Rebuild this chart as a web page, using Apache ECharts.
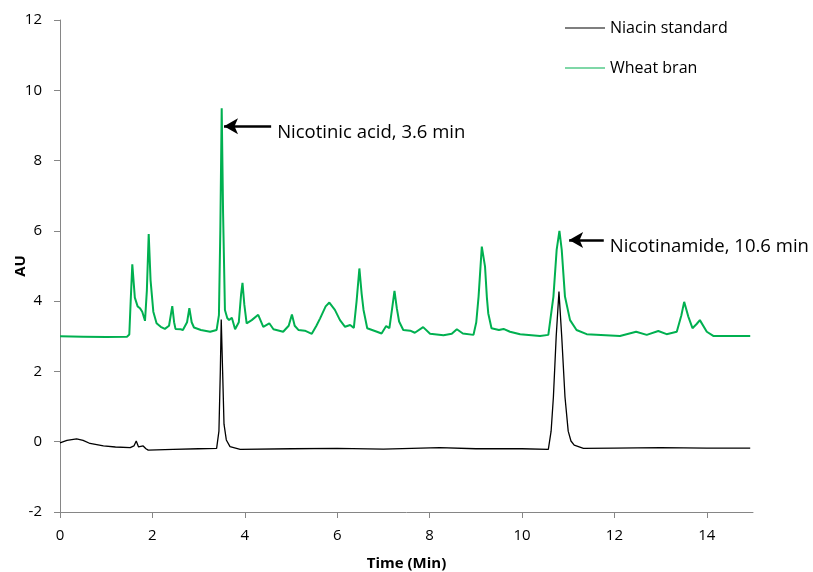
<!DOCTYPE html>
<html>
<head>
<meta charset="utf-8">
<script src="https://cdn.jsdelivr.net/npm/echarts@6/dist/echarts.min.js"></script>
<style>
  html, body { margin: 0; padding: 0; background: #fff; }
  #chart-container { width: 813px; height: 572px; }
</style>
</head>
<body>
<div id="chart-container"></div>
<script>
var dom = document.getElementById("chart-container");
var myChart = echarts.init(dom, null, { renderer: "canvas" });

var font = "'Open Sans', 'Noto Sans', sans-serif";
var xTicks = [0, 2, 4, 6, 8, 10, 12, 14];
var seriesNames = ["Niacin standard", "Wheat bran"];

// [time (min), AU]
var niacinStandard = [
  [0, -0.03], [0.15, 0.04], [0.36, 0.08], [0.5, 0.04], [0.65, -0.05],
  [0.94, -0.12], [1.2, -0.15], [1.52, -0.17], [1.6, -0.12], [1.65, 0.02],
  [1.7, -0.15], [1.73, -0.19], [1.8, -0.12], [1.86, -0.2], [1.91, -0.24],
  [2.45, -0.22], [3.0, -0.2], [3.39, -0.19], [3.44, 0.3], [3.47, 2.0],
  [3.49, 3.48], [3.52, 2.0], [3.55, 0.5], [3.6, 0.05], [3.68, -0.14],
  [3.9, -0.22], [5.0, -0.2], [6.0, -0.19], [7.0, -0.21], [8.22, -0.17],
  [9.0, -0.2], [10.0, -0.2], [10.57, -0.22], [10.63, 0.3], [10.68, 1.28],
  [10.74, 2.99], [10.8, 4.27], [10.86, 2.99], [10.93, 1.28], [11.0, 0.3],
  [11.06, 0.02], [11.13, -0.1], [11.33, -0.19], [12.0, -0.18], [13.0, -0.17],
  [14.0, -0.18], [14.94, -0.18]
];

var wheatBran = [
  [0, 3.0], [0.5, 2.99], [1.0, 2.98], [1.45, 2.99], [1.5, 3.05],
  [1.53, 4.0], [1.565, 5.05], [1.62, 4.1], [1.68, 3.85], [1.73, 3.8],
  [1.78, 3.7], [1.84, 3.44], [1.88, 4.3], [1.92, 5.91], [1.96, 4.6],
  [2.02, 3.7], [2.09, 3.37], [2.18, 3.27], [2.27, 3.21], [2.36, 3.3],
  [2.43, 3.86], [2.47, 3.4], [2.5, 3.21], [2.61, 3.2], [2.66, 3.18],
  [2.75, 3.4], [2.8, 3.8], [2.85, 3.4], [2.9, 3.25], [3.05, 3.18],
  [3.25, 3.13], [3.39, 3.18], [3.44, 3.6], [3.47, 6.0], [3.5, 9.49],
  [3.53, 6.5], [3.57, 3.75], [3.62, 3.52], [3.66, 3.46], [3.72, 3.53],
  [3.79, 3.2], [3.87, 3.4], [3.92, 4.2], [3.95, 4.52], [3.99, 3.9],
  [4.04, 3.37], [4.15, 3.46], [4.29, 3.61], [4.4, 3.27], [4.53, 3.37],
  [4.62, 3.2], [4.83, 3.13], [4.95, 3.3], [5.02, 3.62], [5.08, 3.3],
  [5.16, 3.18], [5.3, 3.16], [5.45, 3.07], [5.55, 3.3], [5.63, 3.51],
  [5.75, 3.85], [5.83, 3.96], [5.95, 3.75], [6.06, 3.46], [6.17, 3.27],
  [6.28, 3.32], [6.36, 3.24], [6.42, 4.0], [6.48, 4.93], [6.53, 4.2],
  [6.57, 3.75], [6.65, 3.23], [6.86, 3.13], [6.96, 3.08], [7.06, 3.29],
  [7.13, 3.23], [7.19, 3.8], [7.24, 4.29], [7.29, 3.8], [7.34, 3.42],
  [7.43, 3.18], [7.58, 3.16], [7.68, 3.1], [7.86, 3.26], [8.01, 3.07],
  [8.3, 3.03], [8.48, 3.07], [8.59, 3.2], [8.72, 3.08], [8.95, 3.04],
  [9.01, 3.4], [9.06, 4.13], [9.13, 5.55], [9.2, 4.98], [9.24, 4.1],
  [9.27, 3.65], [9.34, 3.23], [9.5, 3.18], [9.6, 3.21], [9.74, 3.13],
  [9.96, 3.06], [10.39, 3.01], [10.57, 3.04], [10.68, 4.13], [10.75, 5.46],
  [10.81, 6.0], [10.86, 5.46], [10.93, 4.13], [11.04, 3.46], [11.18, 3.18],
  [11.4, 3.06], [12.12, 3.01], [12.47, 3.13], [12.7, 3.04], [12.95, 3.15],
  [13.13, 3.06], [13.35, 3.13], [13.45, 3.6], [13.51, 3.98], [13.6, 3.56],
  [13.69, 3.23], [13.78, 3.35], [13.85, 3.46], [14.0, 3.13], [14.14, 3.01],
  [14.94, 3.01]
];

// arrow annotations: tail, tip, label text
var arrows = [
  { from: [4.57, 8.98], to: [3.55, 8.98], text: "Nicotinic acid, 3.6 min" },
  { from: [11.77, 5.74], to: [11.02, 5.74], text: "Nicotinamide, 10.6 min" }
];

var axisGrey = "#868686";

var option = {
  animation: false,
  textStyle: { fontFamily: font },
  grid: { left: 60, right: 60, top: 20, bottom: 60, outerBoundsMode: "none" },
  legend: {
    orient: "vertical",
    left: 560,
    top: 14,
    icon: "rect",
    itemWidth: 40,
    itemHeight: 1.2,
    itemGap: 22,
    data: seriesNames,
    textStyle: { fontSize: 16, lineHeight: 18, color: "#000", fontFamily: font }
  },
  xAxis: {
    type: "value",
    min: 0,
    max: 15,
    interval: 2,
    name: "Time (Min)",
    nameLocation: "middle",
    nameGap: 44,
    nameMoveOverlap: false,
    nameTextStyle: { fontSize: 15, fontWeight: "bold", color: "#000" },
    axisLine: { onZero: false, lineStyle: { color: axisGrey, width: 1 } },
    axisTick: { show: true, length: 6, customValues: xTicks, lineStyle: { color: axisGrey } },
    axisLabel: { fontSize: 15, color: "#000", margin: 16, customValues: xTicks },
    splitLine: { show: false }
  },
  yAxis: {
    type: "value",
    min: -2,
    max: 12,
    interval: 2,
    name: "AU",
    nameLocation: "middle",
    nameGap: 32,
    nameMoveOverlap: false,
    nameTextStyle: { fontSize: 15, fontWeight: "bold", color: "#000" },
    axisLine: { show: true, onZero: false, lineStyle: { color: axisGrey, width: 1 } },
    axisTick: { show: true, length: 6, lineStyle: { color: axisGrey } },
    axisLabel: { fontSize: 15, color: "#000", margin: 18 },
    splitLine: { show: false }
  },
  series: [
    {
      name: seriesNames[0],
      type: "line",
      symbol: "none",
      data: niacinStandard,
      lineStyle: { color: "#000", width: 1.3 },
      itemStyle: { color: "#000" },
      z: 3
    },
    {
      name: seriesNames[1],
      type: "line",
      symbol: "none",
      data: wheatBran,
      lineStyle: { color: "#00B050", width: 2 },
      itemStyle: { color: "#00B050" },
      z: 2,
      markLine: {
        silent: true,
        symbol: ["none", "arrow"],
        symbolSize: [12, 14],
        lineStyle: { color: "#000", width: 2.5, type: "solid" },
        label: { show: false },
        data: arrows.map(function (a) {
          return [{ coord: a.from }, { coord: a.to }];
        })
      },
      markPoint: {
        silent: true,
        symbol: "circle",
        symbolSize: 0,
        data: arrows.map(function (a) {
          return {
            coord: [a.from[0], a.from[1] - 0.2],
            label: {
              show: true,
              position: "right",
              distance: 6,
              formatter: a.text,
              fontSize: 18.5,
              color: "#000",
              fontFamily: font
            }
          };
        })
      }
    }
  ]
};

myChart.setOption(option);

window.addEventListener("resize", function () {
  myChart.resize();
});
</script>
</body>
</html>
